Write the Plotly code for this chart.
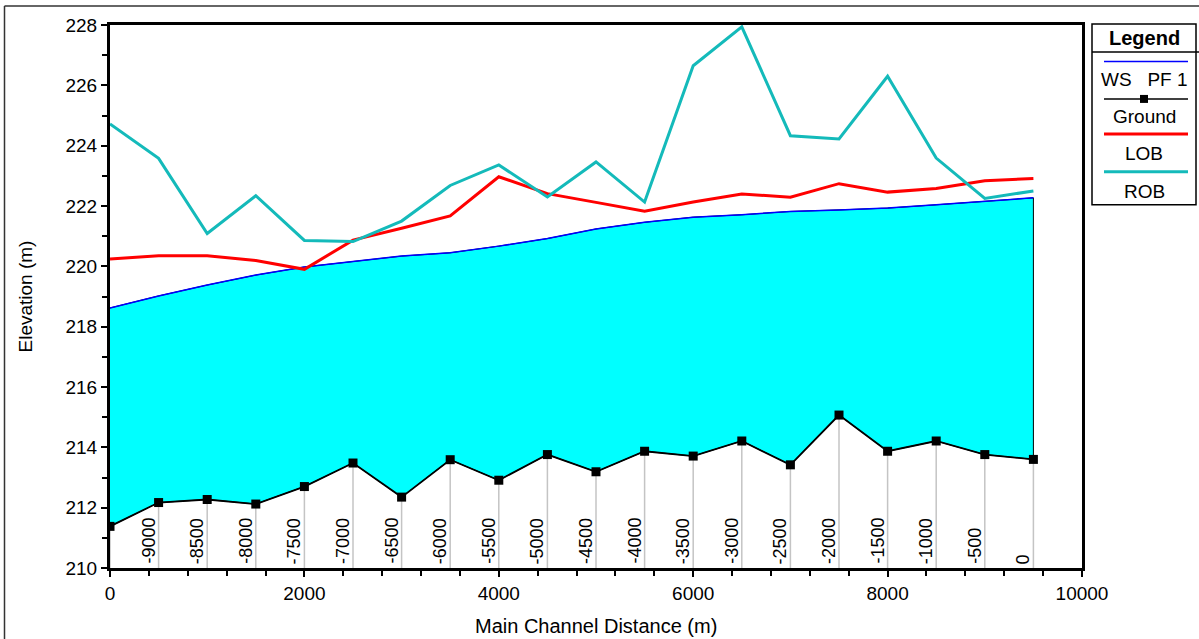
import plotly.graph_objects as go

# ---- data ----
stations = [0, 500, 1000, 1500, 2000, 2500, 3000, 3500, 4000, 4500, 5000,
            5500, 6000, 6500, 7000, 7500, 8000, 8500, 9000, 9500]
station_labels = ["", "-9000", "-8500", "-8000", "-7500", "-7000", "-6500", "-6000",
                  "-5500", "-5000", "-4500", "-4000", "-3500", "-3000", "-2500",
                  "-2000", "-1500", "-1000", "-500", "0"]
ground = [211.38, 212.17, 212.27, 212.12, 212.70, 213.48, 212.35, 213.59, 212.91, 213.76,
          213.19, 213.87, 213.71, 214.21, 213.42, 215.07, 213.87, 214.21, 213.76, 213.60]
ws = [218.62, 219.02, 219.38, 219.71, 219.98, 220.17, 220.34, 220.45, 220.67, 220.92,
      221.24, 221.46, 221.63, 221.71, 221.82, 221.87, 221.93, 222.04, 222.15, 222.27]
lob = [220.24, 220.35, 220.35, 220.19, 219.90, 220.87, 221.26, 221.67, 222.97, 222.41,
       222.12, 221.83, 222.13, 222.40, 222.29, 222.74, 222.46, 222.58, 222.84, 222.91]
rob = [224.72, 223.58, 221.09, 222.34, 220.86, 220.82, 221.50, 222.68, 223.36, 222.30,
       223.46, 222.13, 226.65, 227.94, 224.33, 224.22, 226.30, 223.59, 222.25, 222.50]

x_ticks = [0, 2000, 4000, 6000, 8000, 10000]
y_ticks = [210, 212, 214, 216, 218, 220, 222, 224, 226, 228]

W, H = 1199, 639
L, R, T, B = 110, 1082, 25, 568.5
FONT = "Liberation Sans, Arial, sans-serif"


def px(x):
    return (x - L) / (R - L)


def py(y):
    return (B - y) / (B - T)


fig = go.Figure()

# station (cross-section) vertical lines
sx, sy = [], []
for s, g in zip(stations, ground):
    sx += [s, s, None]
    sy += [210, g, None]
fig.add_trace(go.Scatter(x=sx, y=sy, mode="lines",
                         line=dict(color="#c4c4c4", width=1.5),
                         hoverinfo="skip", showlegend=False))

# water fill between ground and water surface
fig.add_trace(go.Scatter(x=stations + stations[::-1], y=ws + ground[::-1],
                         mode="lines", fill="toself", fillcolor="#00FFFF",
                         line=dict(color="#000000", width=1),
                         hoverinfo="skip", showlegend=False))

fig.add_trace(go.Scatter(x=stations, y=ground, mode="lines+markers", name="Ground",
                         line=dict(color="#000000", width=1.8),
                         marker=dict(symbol="square", size=9, color="#000000"),
                         showlegend=False))
fig.add_trace(go.Scatter(x=stations, y=ws, mode="lines", name="WS  PF 1",
                         line=dict(color="#0000FF", width=1.5), showlegend=False))
fig.add_trace(go.Scatter(x=stations, y=lob, mode="lines", name="LOB",
                         line=dict(color="#FF0000", width=3), showlegend=False))
fig.add_trace(go.Scatter(x=stations, y=rob, mode="lines", name="ROB",
                         line=dict(color="#14BABA", width=3), showlegend=False))

annotations = []
for s, lab in zip(stations, station_labels):
    if not lab:
        continue
    annotations.append(dict(x=s, y=210, xref="x", yref="y", text=lab, textangle=-90,
                            showarrow=False, xanchor="right", yanchor="bottom",
                            xshift=2, yshift=2,
                            font=dict(family=FONT, size=18, color="#000000")))

# axis titles
annotations.append(dict(x=0.5, y=0, xref="paper", yref="paper", text="Main Channel Distance (m)",
                        showarrow=False, xanchor="center", yanchor="middle", yshift=-58,
                        font=dict(family=FONT, size=20, color="#000000")))
annotations.append(dict(x=0, y=0.5, xref="paper", yref="paper", text="Elevation (m)",
                        textangle=-90, showarrow=False, xanchor="center", yanchor="middle",
                        xshift=-85, font=dict(family=FONT, size=19, color="#000000")))

# custom legend
lx0, lx1, ly0, ly1 = 1092, 1196, 24, 205
lcx = (lx0 + lx1) / 2
shapes = [
    dict(type="line", xref="paper", yref="paper", x0=px(4.5), y0=py(640), x1=px(4.5), y1=py(6),
         line=dict(color="#333333", width=1.5)),
    dict(type="line", xref="paper", yref="paper", x0=px(4.5), y0=py(6), x1=px(1200), y1=py(6),
         line=dict(color="#333333", width=1.5)),
    dict(type="rect", xref="paper", yref="paper", x0=px(lx0), y0=py(ly1), x1=px(lx1), y1=py(ly0),
         line=dict(color="#000000", width=1.5), fillcolor="white"),
    dict(type="line", xref="paper", yref="paper", x0=px(lx0), y0=py(52), x1=px(1200), y1=py(52),
         line=dict(color="#000000", width=1.5)),
]
legend_items = [("WS\u00a0\u00a0\u00a0PF\u00a01", "#0000FF", 1.5, 61.5, 80, False),
                ("Ground", "#000000", 1.5, 99, 117, True),
                ("LOB", "#FF0000", 3, 134, 154, False),
                ("ROB", "#14BABA", 3, 172, 192, False)]
annotations.append(dict(x=px(lcx), y=py(38), xref="paper", yref="paper", text="<b>Legend</b>",
                        showarrow=False, xanchor="center", yanchor="middle",
                        font=dict(family=FONT, size=20, color="#000000")))
for name, col, w, yl, yt, mk in legend_items:
    shapes.append(dict(type="line", xref="paper", yref="paper", x0=px(1104), x1=px(1188),
                       y0=py(yl), y1=py(yl), line=dict(color=col, width=w)))
    if mk:
        shapes.append(dict(type="rect", xref="paper", yref="paper", x0=px(lcx - 4), x1=px(lcx + 4),
                           y0=py(yl + 4), y1=py(yl - 4), line=dict(width=0), fillcolor="#000000"))
    annotations.append(dict(x=px(lcx), y=py(yt), xref="paper", yref="paper", text=name,
                            showarrow=False, xanchor="center", yanchor="middle",
                            font=dict(family=FONT, size=19, color="#000000")))

fig.update_layout(
    width=W, height=H, autosize=False,
    margin=dict(l=L, r=W - R, t=T, b=H - B),
    paper_bgcolor="white", plot_bgcolor="white",
    font=dict(family=FONT, size=19, color="#000000"),
    showlegend=False,
    shapes=shapes, annotations=annotations,
    xaxis=dict(range=[0, 10000], tickvals=x_ticks, ticktext=[str(v) for v in x_ticks],
               showgrid=False, zeroline=False, showline=True, linewidth=3, linecolor="#000000",
               mirror=True, ticks="outside", ticklen=6, tickwidth=1.5, tickcolor="#000000",
               tickfont=dict(family=FONT, size=19),
               minor=dict(dtick=400, tick0=0, ticks="outside", ticklen=5, tickwidth=1.5,
                          tickcolor="#000000", showgrid=False)),
    yaxis=dict(range=[210, 228], tickvals=y_ticks, ticktext=[str(v) for v in y_ticks],
               showgrid=False, zeroline=False, showline=True, linewidth=3, linecolor="#000000",
               mirror=True, ticks="outside", ticklen=6, tickwidth=1.5, tickcolor="#000000",
               tickfont=dict(family=FONT, size=19),
               minor=dict(dtick=1, tick0=0, ticks="outside", ticklen=5, tickwidth=1.5,
                          tickcolor="#000000", showgrid=False)),
)

fig.write_html("out.html", config={"displayModeBar": False},
               post_script="document.body.style.margin='0px';")
